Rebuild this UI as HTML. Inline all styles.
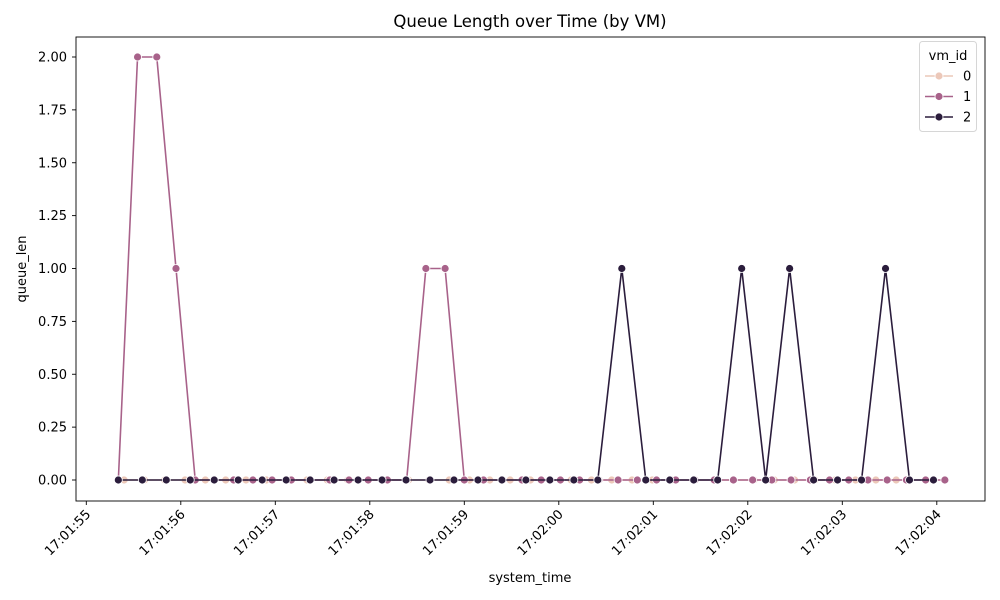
<!DOCTYPE html>
<html><head><meta charset="utf-8"><style>body{margin:0;background:#fff}svg{display:block;font-family:"DejaVu Sans","Liberation Sans",sans-serif}</style></head>
<body>
<svg id="chart" width="1000" height="600" viewBox="0 0 1000 600"></svg>
<script>
// data (seconds after 17:01:00)
const vm0Start = 55.40, vm0Step = 0.215;
const vm0Values = [0,0,0,0,0,0,0,0,0,0,0,0,0,0,0,0,0,0,0,0,0,0,0,0,0,0,0,0,0,0,0,0,0,0,0,0,0,0,0];
const vm1Start = 55.339, vm1Step = 0.2034;
const vm1Values = [0,2,2,1,0,0,0,0,0,0,0,0,0,0,0,0,1,1,0,0,0,0,0,0,0,0,0,0,0,0,0,0,0,0,0,0,0,0,0,0,0,0,0,0];
const vm2Start = 55.339, vm2Step = 0.2537;
const vm2Values = [0,0,0,0,0,0,0,0,0,0,0,0,0,0,0,0,0,0,0,0,0,1,0,0,0,0,1,0,1,0,0,0,1,0,0];
const xTickSecs = [55,56,57,58,59,60,61,62,63,64];
const xTickLabels = ["17:01:55","17:01:56","17:01:57","17:01:58","17:01:59","17:02:00","17:02:01","17:02:02","17:02:03","17:02:04"];
const yTicks = [0,0.25,0.5,0.75,1,1.25,1.5,1.75,2];
const seriesNames = ["0","1","2"];
const colors = ["#ecc8b9","#a8628a","#2b1d3c"];

const NS="http://www.w3.org/2000/svg";
const svg=document.getElementById('chart');
const L=76,R=985,T=37,B=501;
const x=t=>86.3+(t-55)*94.5;
const y=v=>480-v*211.5;
function el(tag,attrs,parent){const e=document.createElementNS(NS,tag);for(const k in attrs)e.setAttribute(k,attrs[k]);(parent||svg).appendChild(e);return e;}

const title=el('text',{x:530,y:27,'text-anchor':'middle','font-size':16.5});


title.textContent='Queue Length over Time (by VM)';

yTicks.forEach(v=>{
  const tk=el('line',{x1:L-4,x2:L,y1:y(v),y2:y(v),stroke:'#000','stroke-width':0.9});
  
  
  const tl=el('text',{x:L-9,y:y(v)+4.5,'text-anchor':'end','font-size':13});
  
  
  tl.textContent=v.toFixed(2);
});
xTickSecs.forEach((s,i)=>{
  const xx=x(s);
  const tk=el('line',{x1:xx,x2:xx,y1:B,y2:B+4,stroke:'#000','stroke-width':0.9});
  
  
  const tl=el('text',{x:xx+5,y:B+14,'text-anchor':'end','font-size':13,transform:`rotate(-45 ${xx+5} ${B+14})`});
  
  
  tl.textContent=xTickLabels[i];
});
const yt=el('text',{x:26,y:269,'text-anchor':'middle','font-size':13,transform:'rotate(-90 26 269)'});


yt.textContent='queue_len';
const xt=el('text',{x:530,y:582,'text-anchor':'middle','font-size':13});


xt.textContent='system_time';

const series=[[vm0Start,vm0Step,vm0Values],[vm1Start,vm1Step,vm1Values],[vm2Start,vm2Step,vm2Values]];
series.forEach((sr,si)=>{
  const g=el('g',{});
  
  
  const pts=sr[2].map((v,i)=>[x(sr[0]+i*sr[1]),y(v)]);
  const pl=el('polyline',{points:pts.map(p=>p.join(',')).join(' '),fill:'none',stroke:colors[si],'stroke-width':1.6},g);
  
  
  pts.forEach(p=>{
    const c=el('circle',{cx:p[0],cy:p[1],r:4,fill:colors[si],stroke:'#fff','stroke-width':0.8},g);
    
    
  });
});

const frame=el('rect',{x:L,y:T,width:R-L,height:B-T,fill:'none',stroke:'#000','stroke-width':0.9});



const lg=el('g',{});


el('rect',{x:919.5,y:41.5,width:57,height:90,rx:3,fill:'#fff','fill-opacity':0.8,stroke:'#d6d6d6'},lg);
const lt=el('text',{x:948,y:60,'text-anchor':'middle','font-size':13},lg);


lt.textContent='vm_id';
seriesNames.forEach((n,i)=>{
  const yy=76+i*20.5;
  const e=el('g',{},lg);
  
  
  el('line',{x1:925,x2:953,y1:yy,y2:yy,stroke:colors[i],'stroke-width':1.6},e);
  el('circle',{cx:939,cy:yy,r:4,fill:colors[i],stroke:'#fff','stroke-width':0.8},e);
  const t=el('text',{x:963,y:yy+4.5,'font-size':13},e);
  t.textContent=n;
});
</script>
</body></html>
